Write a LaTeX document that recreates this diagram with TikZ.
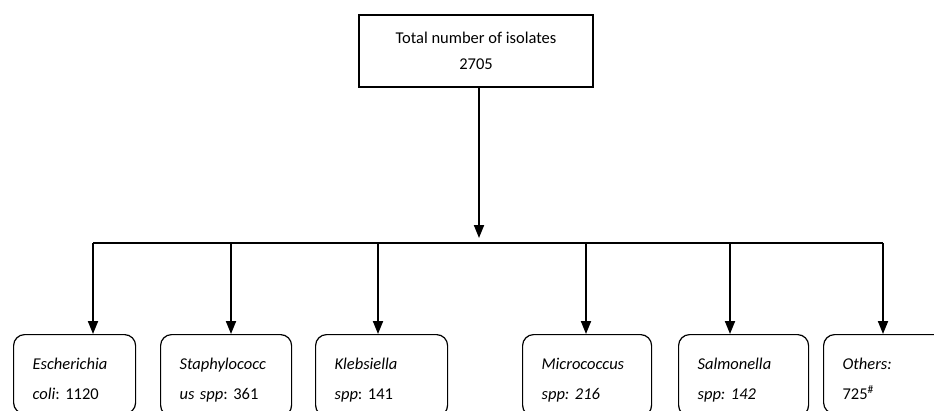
\documentclass[tikz,border=0pt]{standalone}
\usepackage{fontspec}
\setmainfont{Carlito}
\usetikzlibrary{arrows.meta,positioning}
\frenchspacing

\begin{document}
\begin{tikzpicture}[x=1pt, y=-1pt,
      total/.style={draw, line width=1.4pt, minimum width=234pt, minimum height=72pt, align=center, font=\fontsize{16.5}{26}\selectfont},
      taxon/.style={draw, line width=1.2pt, rounded corners=11pt, anchor=north west, align=left, inner xsep=19pt, inner ysep=14pt, font=\fontsize{16.5}{30}\selectfont},
      link/.style={line width=1.9pt},
      arrowstyle/.style={link, -{Triangle[width=10pt, length=13pt]}}
    ]
    \useasboundingbox (0,0) rectangle (934,410);
    \clip (0,0) rectangle (934,410);

    \node[total] (all) at (476,51) {Total number of isolates\\2705};

    \coordinate (hub) at (479,238);
    \coordinate (bl) at (93,243);
    \coordinate (br) at (883,243);
    \coordinate (b2) at (231,243);
    \coordinate (b3) at (378,243);
    \coordinate (b4) at (586,243);
    \coordinate (b5) at (730,243);

    \node[taxon, text width=84pt] (ecoli) at (13,334) {\strut\textit{Escherichia}\\\textit{coli}: 1120};
    \node[taxon, text width=93pt] (staph) at (160,334) {\strut\textit{Staphylococc}\\\textit{us spp}: 361};
    \node[taxon, text width=94pt] (kleb) at (315,334) {\strut\textit{Klebsiella}\\\textit{spp}: 141};
    \node[taxon, text width=91pt] (micro) at (522,334) {\strut\textit{Micrococcus}\\\textit{spp: 216}};
    \node[taxon, text width=92pt] (salm) at (678,334) {\strut\textit{Salmonella}\\\textit{spp: 142}};
    \node[taxon, text width=92pt] (other) at (823,334) {\strut\textit{Others:}\\725\textsuperscript{\#}};

    \draw[arrowstyle] (all.south -| hub) -- (hub);
    \draw[link] (bl) -- (br);
    \draw[arrowstyle] (bl) -- (bl |- ecoli.north);
    \draw[arrowstyle] (b2) -- (b2 |- staph.north);
    \draw[arrowstyle] (b3) -- (b3 |- kleb.north);
    \draw[arrowstyle] (b4) -- (b4 |- micro.north);
    \draw[arrowstyle] (b5) -- (b5 |- salm.north);
    \draw[arrowstyle] (br) -- (br |- other.north);
\end{tikzpicture}
\end{document}
